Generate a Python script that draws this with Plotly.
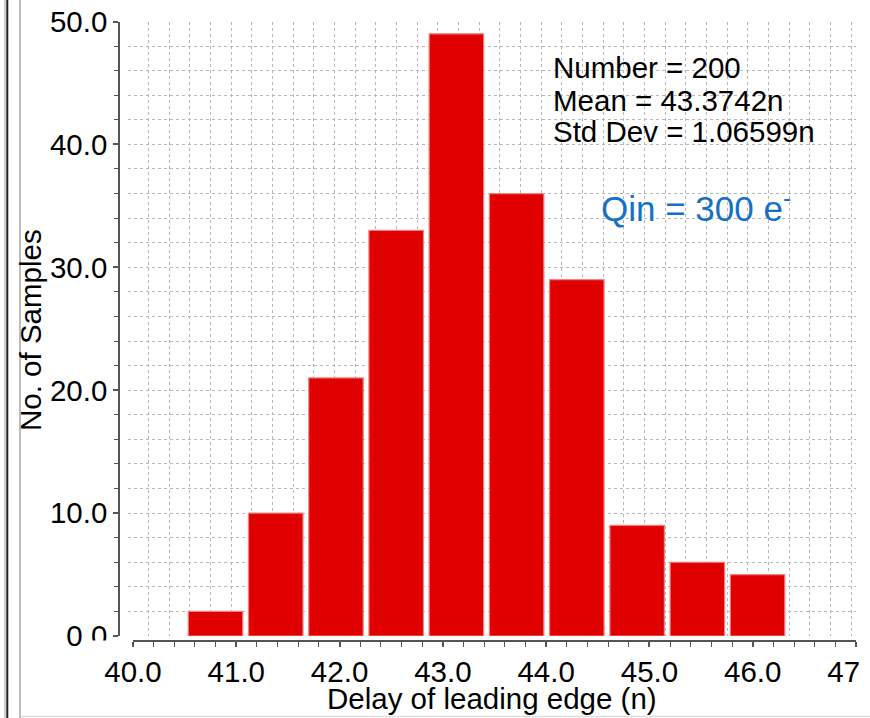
import plotly.graph_objects as go

# ---- data ----
bin_centers = [40.799, 41.382, 41.965, 42.548, 43.131, 43.714, 44.297, 44.881, 45.464, 46.047]
counts = [2, 10, 21, 33, 49, 36, 29, 9, 6, 5]
x_tickvals = [40, 41, 42, 43, 44, 45, 46, 47]
x_ticktext = ["40.0", "41.0", "42.0", "43.0", "44.0", "45.0", "46.0", "47\u00a0\u00a0\u00a0"]
stats_lines = ["Number = 200", "Mean = 43.3742n", "Std Dev = 1.06599n"]
qin_label = "Qin = 300 e<sup>-</sup>"
x_title = "Delay of leading edge (n)"
y_title = "No. of Samples"

W, H = 870, 718
FONT = "Liberation Sans, Arial, Helvetica, sans-serif"
FS = 29.5

def px(x):
    return x / W

def py(y):
    return 1 - y / H

fig = go.Figure()

# invisible trace to create the grid subplot
fig.add_trace(go.Scatter(x=bin_centers, y=counts, xaxis="x", yaxis="y",
                         mode="markers", marker=dict(opacity=0),
                         hoverinfo="skip", showlegend=False))

fig.add_trace(go.Bar(x=bin_centers, y=counts, xaxis="x2", yaxis="y2",
                     marker=dict(color="#e00000", line=dict(color="#f28080", width=1.2)),
                     showlegend=False))

ydom = [py(636), py(21.5)]
grid_kw = dict(showgrid=True, gridcolor="#b8b8b8", griddash="dot", gridwidth=1,
               showline=False, zeroline=False, ticks="", showticklabels=False,
               automargin=False)

fig.update_layout(
    template="none",
    width=W, height=H, autosize=False,
    margin=dict(l=0, r=0, t=0, b=0, pad=0, autoexpand=False),
    paper_bgcolor="white", plot_bgcolor="rgba(0,0,0,0)",
    font=dict(family=FONT, size=FS, color="black"),
    bargap=0.095,
    xaxis=dict(domain=[px(128), px(856)], range=[40, 40 + 728 / 103.286],
               tick0=40, dtick=0.2, anchor="y", **grid_kw),
    yaxis=dict(domain=ydom, range=[0, 50], tick0=0, dtick=2, anchor="x", **grid_kw),
    xaxis2=dict(domain=[px(133), px(856)], range=[40, 47], anchor="free", position=py(641),
                automargin=False, ticklabeloverflow="allow",
                showgrid=False, zeroline=False, showline=True, linecolor="#555", linewidth=1.5,
                tickmode="array", tickvals=x_tickvals, ticktext=x_ticktext,
                ticks="outside", ticklen=5, tickwidth=1.5, tickcolor="#555",
                ticklabelstandoff=0,
                minor=dict(tickmode="linear", tick0=40, dtick=0.2, ticks="outside",
                           ticklen=5, tickwidth=1.2, tickcolor="#555", showgrid=False),
                tickfont=dict(family=FONT, size=FS, color="black")),
    yaxis2=dict(domain=ydom, range=[0, 50], anchor="free", position=px(119),
                automargin=False, ticklabeloverflow="allow",
                showgrid=False, zeroline=False, showline=True, linecolor="#555", linewidth=1.5,
                tickmode="linear", tick0=0, dtick=10, tickformat=".1f",
                ticks="outside", ticklen=5, tickwidth=1.5, tickcolor="#555",
                ticklabelstandoff=0,
                minor=dict(tickmode="linear", tick0=0, dtick=2, ticks="outside",
                           ticklen=4, tickwidth=1.2, tickcolor="#555", showgrid=False),
                tickfont=dict(family=FONT, size=FS, color="black")),
)

annotations = []
annotations.append(dict(text=y_title, x=px(31), y=py(330), xref="paper", yref="paper",
                        textangle=-90, showarrow=False, xanchor="center", yanchor="middle",
                        font=dict(family=FONT, size=FS, color="black")))
annotations.append(dict(text=x_title, x=px(492), y=py(698), xref="paper", yref="paper",
                        showarrow=False, xanchor="center", yanchor="middle",
                        font=dict(family=FONT, size=FS, color="black")))
for i, (line, yc) in enumerate(zip(stats_lines, [67.5, 100, 131.5])):
    annotations.append(dict(text=line, x=px(551), y=py(yc), xref="paper", yref="paper",
                            showarrow=False, xanchor="left", yanchor="middle",
                            font=dict(family=FONT, size=FS, color="black")))
annotations.append(dict(text=qin_label, x=px(599), y=py(206), xref="paper", yref="paper",
                        showarrow=False, xanchor="left", yanchor="middle",
                        font=dict(family=FONT, size=35, color="#1570c8")))
fig.update_layout(annotations=annotations)

shapes = [
    # window frame lines on the left
    dict(type="line", xref="paper", yref="paper", x0=px(5), x1=px(5), y0=0, y1=1,
         line=dict(color="#cfcfcf", width=2)),
    dict(type="line", xref="paper", yref="paper", x0=px(7.3), x1=px(7.3), y0=0, y1=1,
         line=dict(color="#222", width=2)),
    dict(type="line", xref="paper", yref="paper", x0=px(20), x1=px(20), y0=0, y1=1,
         line=dict(color="#bdbdbd", width=2)),
    dict(type="line", xref="paper", yref="paper", x0=px(21), x1=1, y0=py(716.5), y1=py(716.5),
         line=dict(color="#dedede", width=1.5)),
    # clip the bottom of the "0.0" label like the reference
    dict(type="rect", xref="paper", yref="paper", x0=px(85), x1=px(117.5), y0=py(660), y1=py(640.5),
         fillcolor="white", line=dict(width=0), layer="above"),
]
fig.update_layout(shapes=shapes)

fig.write_html("out.html")
